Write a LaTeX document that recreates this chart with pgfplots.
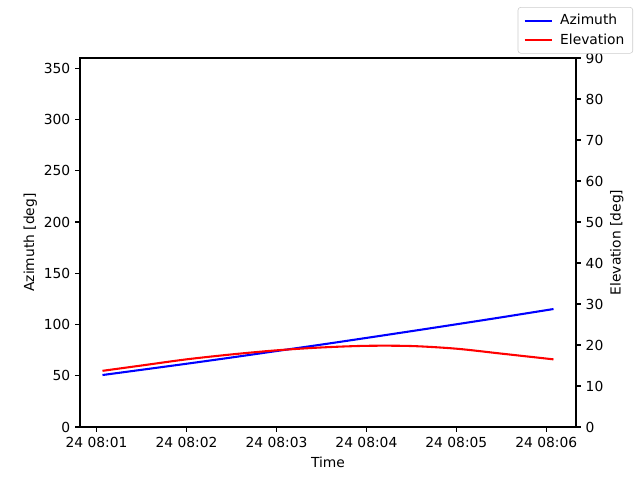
\documentclass[border=0pt]{standalone}
\usepackage{fontspec}
\setmainfont{DejaVu Sans}
\usepackage{pgfplots}
\pgfplotsset{compat=1.18}

% time in minutes after 24 08:01
\pgfplotstableread{
t      az      el
0.066  50.7    13.7
0.5    55.8    15.0
1.0    61.7    16.5
1.5    67.8    17.7
2.0    74.1    18.7
2.5    80.4    19.4
3.0    86.9    19.8
3.5    93.5    19.75
4.0    100.2   19.1
4.5    107.0   17.9
5.08   115.1   16.5
}\track

\pgfplotsset{
  common/.style={
    scale only axis, width=4.96in, height=3.69in,
    at={(0,0)}, anchor=south west,
    xmin=-0.184, xmax=5.33,
    tick align=outside, major tick length=3.5pt,
    every tick/.style={black, line width=0.8pt},
    axis line style={line width=0.8pt},
    /pgf/number format/assume math mode=true,
    tick label style={font=\fontsize{10}{12}\selectfont},
    label style={font=\fontsize{10}{12}\selectfont},
    ylabel shift=-2pt,
  }
}

\begin{document}
\begin{tikzpicture}
\path (-0.8in,-0.53in) rectangle (5.6in,4.27in);
\begin{axis}[common,
    ymin=0, ymax=360, ytick={0,50,...,350},
    xtick={0,1,2,3,4,5},
    xticklabels={24 08:01,24 08:02,24 08:03,24 08:04,24 08:05,24 08:06},
    xtick pos=bottom, ytick pos=left,
    xlabel={Time}, ylabel={Azimuth [deg]},
]
\addplot[blue, line width=1.5pt, smooth] table[x=t, y=az] {\track};
\end{axis}
\begin{axis}[common,
    ymin=0, ymax=90, ytick={0,10,...,90},
    axis x line=none, axis y line*=right,
    ylabel={Elevation [deg]},
    legend style={at={(1.115,1.138)}, anchor=north east,
      draw=black!20, rounded corners=2pt, font=\fontsize{10}{12}\selectfont,
      row sep=1pt, inner ysep=3pt, inner xsep=4pt},
    legend cell align=left,
    legend image code/.code={\draw[#1] (0pt,0pt) -- (20pt,0pt); \path (23pt,0pt);},
]
\addlegendimage{blue, line width=1.5pt}
\addlegendentry{Azimuth}
\addplot[red, line width=1.5pt, smooth] table[x=t, y=el] {\track};
\addlegendentry{Elevation}
\end{axis}
\end{tikzpicture}
\end{document}
